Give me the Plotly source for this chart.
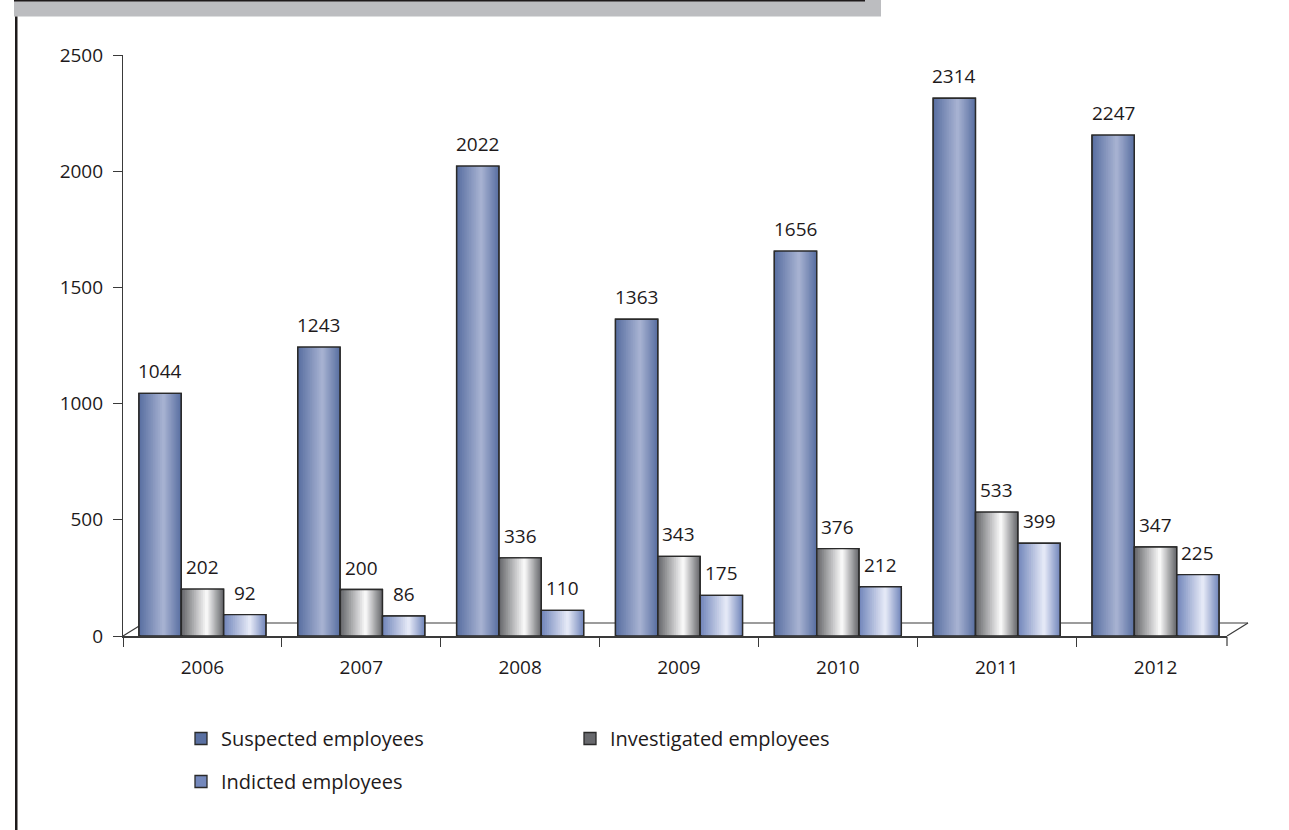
import plotly.graph_objects as go

# ---------------- data ----------------
years = ["2006", "2007", "2008", "2009", "2010", "2011", "2012"]
suspected = [1044, 1243, 2022, 1363, 1656, 2314, 2155]
investigated = [202, 200, 336, 343, 376, 533, 383]
indicted = [92, 86, 110, 175, 212, 399, 264]
suspected_labels = ["1044", "1243", "2022", "1363", "1656", "2314", "2247"]
investigated_labels = ["202", "200", "336", "343", "376", "533", "347"]
indicted_labels = ["92", "86", "110", "175", "212", "399", "225"]
series_names = ["Suspected employees", "Investigated employees", "Indicted employees"]
y_ticks = [0, 500, 1000, 1500, 2000, 2500]

# ---------------- styling ----------------
W, H = 1289, 830
PLOT_L, PLOT_R, PLOT_T, PLOT_B = 123, 1227, 55, 636
FONT = "Open Sans"
FS = 19
LEG_FS = 20
TXT = "#1e1a1b"
AXC = "#3a3a3a"
OUTLINE = "#2a2a2a"
BAR_W = 0.2667
OFFSETS = [-0.4, -0.4 + BAR_W, -0.4 + 2 * BAR_W]
GRAD = [  # edge colour, peak colour, relative peak position
    ((90, 112, 162), (166, 177, 209), 0.58),
    ((104, 105, 109), (247, 247, 247), 0.60),
    ((116, 136, 188), (228, 232, 246), 0.62),
]
N_LAYERS = 14
X_MAX = 6.45


def px_x(px):
    return (px - PLOT_L) / (PLOT_R - PLOT_L)


def px_y(py):
    return (PLOT_B - py) / (PLOT_B - PLOT_T)


def mix(c1, c2, t):
    return "rgb(%d,%d,%d)" % tuple(round(a + (b - a) * t) for a, b in zip(c1, c2))


values = [suspected, investigated, indicted]
labels = [suspected_labels, investigated_labels, indicted_labels]
legend_ids = ["legend", "legend", "legend2"]

fig = go.Figure()

for s in range(3):
    edge, peak, ppos = GRAD[s]
    L = OFFSETS[s]
    R = L + BAR_W
    P = L + ppos * BAR_W
    for k in range(N_LAYERS):
        f = k / N_LAYERS
        left = L + (P - L) * f
        right = R - (R - P) * f
        t = k / (N_LAYERS - 1)
        fig.add_trace(go.Bar(
            x=years, y=values[s],
            offset=left, width=right - left,
            marker=dict(color=mix(edge, peak, t),
                        line=dict(color=OUTLINE, width=1.3 if k == 0 else 0)),
            name=series_names[s],
            showlegend=(k == 0),
            legend=legend_ids[s],
            hoverinfo="skip" if k else None,
        ))
    # outline on top
    fig.add_trace(go.Bar(
        x=years, y=values[s], offset=L, width=BAR_W,
        marker=dict(color="rgba(0,0,0,0)", line=dict(color=OUTLINE, width=1.3)),
        showlegend=False, hoverinfo="skip",
    ))

# value labels
for s in range(3):
    cx = OFFSETS[s] + BAR_W / 2
    for i, (v, lab) in enumerate(zip(values[s], labels[s])):
        fig.add_annotation(x=i + cx, y=v, text=lab, showarrow=False,
                           xref="x", yref="y", yanchor="bottom", yshift=7,
                           font=dict(family=FONT, size=FS, color=TXT))

# decorative shapes: floor, header bar, left rule
depth_x = 21 / (PLOT_R - PLOT_L)
depth_y = px_y(623)
shapes = [
    dict(type="line", xref="paper", yref="paper", x0=depth_x, x1=1 + depth_x,
         y0=depth_y, y1=depth_y, line=dict(color=AXC, width=1.2), layer="below"),
    dict(type="line", xref="paper", yref="paper", x0=0, x1=depth_x,
         y0=0, y1=depth_y, line=dict(color=AXC, width=1.2), layer="below"),
    dict(type="line", xref="paper", yref="paper", x0=1, x1=1 + depth_x,
         y0=0, y1=depth_y, line=dict(color=AXC, width=1.2), layer="below"),
    dict(type="line", xref="paper", yref="paper", x0=1, x1=1,
         y0=px_y(637), y1=px_y(646), line=dict(color=AXC, width=1.2)),
    dict(type="rect", xref="paper", yref="paper", x0=px_x(14), x1=px_x(881),
         y0=px_y(0), y1=px_y(16.5), fillcolor="#bcbdc0", line=dict(width=0)),
    dict(type="rect", xref="paper", yref="paper", x0=px_x(14), x1=px_x(865),
         y0=px_y(0), y1=px_y(1.5), fillcolor=TXT, line=dict(width=0)),
    dict(type="rect", xref="paper", yref="paper", x0=px_x(15), x1=px_x(17.5),
         y0=px_y(16.5), y1=px_y(H), fillcolor=TXT, line=dict(width=0)),
]

fig.update_layout(
    width=W, height=H, autosize=False,
    margin=dict(l=PLOT_L, r=W - PLOT_R, t=PLOT_T, b=H - PLOT_B, pad=0),
    paper_bgcolor="white", plot_bgcolor="white",
    barmode="overlay",
    font=dict(family=FONT, size=FS, color=TXT),
    shapes=shapes,
    showlegend=True,
    legend=dict(orientation="h", x=px_x(181), y=px_y(719), xanchor="left", yanchor="top",
                entrywidth=344, entrywidthmode="pixels", font=dict(size=LEG_FS, color=TXT),
                bgcolor="rgba(0,0,0,0)"),
    legend2=dict(orientation="h", x=px_x(181), y=px_y(762), xanchor="left", yanchor="top",
                 font=dict(size=LEG_FS, color=TXT), bgcolor="rgba(0,0,0,0)"),
    xaxis=dict(type="category", range=[-0.5, X_MAX], tickson="boundaries",
               ticks="outside", ticklen=9, tickwidth=1.2, tickcolor=AXC,
               showline=True, linecolor=AXC, linewidth=2, showgrid=False,
               ticklabelstandoff=13, tickfont=dict(size=FS, color=TXT)),
    yaxis=dict(range=[0, 2500], tickvals=y_ticks, ticks="outside", ticklen=9,
               tickwidth=1.2, tickcolor=AXC, showline=True, linecolor=AXC, linewidth=1.2,
               showgrid=False, zeroline=False, ticklabelstandoff=6,
               tickfont=dict(size=FS, color=TXT)),
)

fig.write_html("out.html", config={"displayModeBar": False},
               post_script="document.body.style.margin='0';document.body.style.padding='0';")
